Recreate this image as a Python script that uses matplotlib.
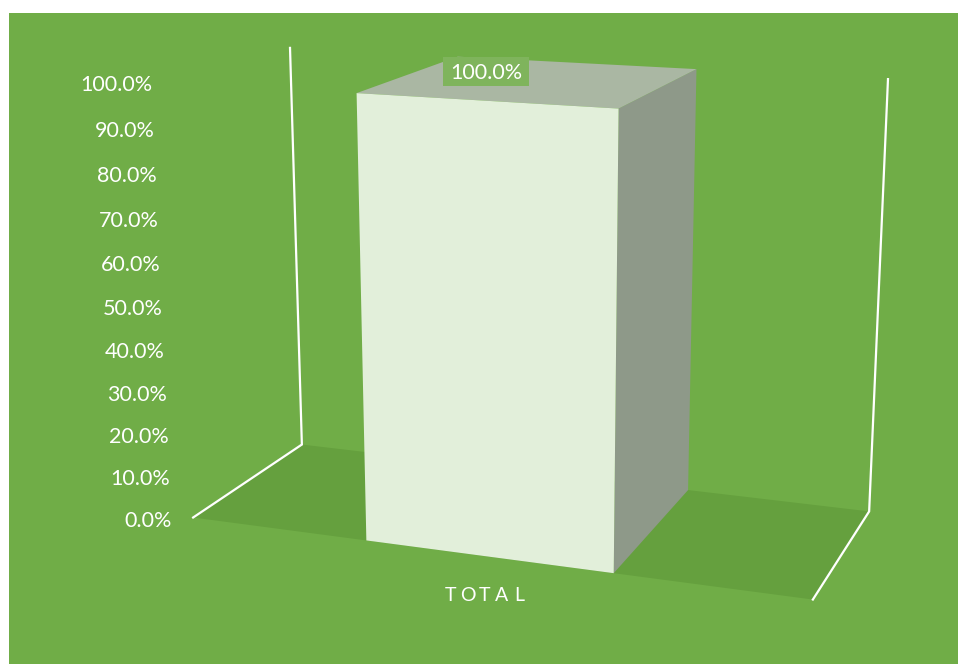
import numpy as np
import matplotlib.pyplot as plt
from matplotlib.patches import Polygon, Rectangle

# chart data
categories = ['TOTAL']
values = [1.0]
tick_values = [0.0, 0.1, 0.2, 0.3, 0.4, 0.5, 0.6, 0.7, 0.8, 0.9, 1.0]
tick_labels = ['0.0%', '10.0%', '20.0%', '30.0%', '40.0%', '50.0%',
               '60.0%', '70.0%', '80.0%', '90.0%', '100.0%']
data_labels = ['100.0%']

W, H = 958, 664
BG = '#70AD47'
FLOOR = '#65A03E'
FRONT = '#E2EFDA'
TOP = '#AAB7A3'
SIDE = '#8E9989'
LABEL_BOX = '#7FB45C'
FONT = 'Lato'

# camera for the 3d box: world (x across, value up, depth back) -> pixels
# calibrated on the floor corners and the tops of the two back corners
frame_world = [(0, 0, 0), (1, 0, 0), (1, 0, 1), (0, 0, 1), (0, 1, 1), (1, 1, 1)]
frame_px = [(193, 518), (813, 599), (869, 512), (302, 444), (290, 48), (888, 79)]


def fit_camera(world, px):
    rows = []
    for (X, Y, Z), (u, v) in zip(world, px):
        u = (u - W / 2) / (W / 2)
        v = (v - H / 2) / (H / 2)
        rows.append([X, Y, Z, 1, 0, 0, 0, 0, -u * X, -u * Y, -u * Z, -u])
        rows.append([0, 0, 0, 0, X, Y, Z, 1, -v * X, -v * Y, -v * Z, -v])
    _, _, vt = np.linalg.svd(np.array(rows, dtype=float))
    return vt[-1].reshape(3, 4)


P = fit_camera(frame_world, frame_px)


def proj(X, Y, Z):
    h = P @ np.array([X, Y, Z, 1.0])
    return (h[0] / h[2] * W / 2 + W / 2, h[1] / h[2] * H / 2 + H / 2)


ymax = max(tick_values)
n = len(categories)
gap = 1.5  # excel gap width 150%

fig = plt.figure(figsize=(W / 100, H / 100), dpi=100)
ax = fig.add_axes([0, 0, 1, 1])
ax.set_xlim(0, W)
ax.set_ylim(H, 0)
ax.axis('off')

ax.add_patch(Rectangle((9, 13), W - 9, H - 13, color=BG, lw=0))

# floor
floor = [proj(0, 0, 0), proj(1, 0, 0), proj(1, 0, 1), proj(0, 0, 1)]
ax.add_patch(Polygon(floor, closed=True, color=FLOOR, lw=0))

# wall edges
for xw, zf in [(0, 0), (1, 0)]:
    pts = [proj(xw, 0, zf), proj(xw, 0, 1), proj(xw, ymax, 1)]
    ax.plot([p[0] for p in pts], [p[1] for p in pts], color='white', lw=1.6,
            solid_joinstyle='miter')

# value axis labels along the front-left edge
for v, lab in zip(tick_values, tick_labels):
    x, y = proj(0, v / ymax, 0)
    ax.text(x - 21, y + 3, lab, ha='right', va='center', color='white',
            fontsize=15.5, family=FONT)

# bars
for i, (cat, val, dl) in enumerate(zip(categories, values, data_labels)):
    slot = 1.0 / n
    bw = slot / (1 + gap)
    x0 = i * slot + (slot - bw) / 2
    x1 = x0 + bw
    yv = val / ymax
    front = [proj(x0, 0, 0), proj(x1, 0, 0), proj(x1, yv, 0), proj(x0, yv, 0)]
    side = [proj(x1, 0, 0), proj(x1, 0, 1), proj(x1, yv, 1), proj(x1, yv, 0)]
    top = [proj(x0, yv, 0), proj(x1, yv, 0), proj(x1, yv, 1), proj(x0, yv, 1)]
    ax.add_patch(Polygon(side, closed=True, color=SIDE, lw=0))
    ax.add_patch(Polygon(top, closed=True, color=TOP, lw=0))
    ax.add_patch(Polygon(front, closed=True, color=FRONT, lw=0))

    # data label
    cx, cy = proj((x0 + x1) / 2, yv, 0.5)
    lx, ly = cx - 46, cy - 9
    ax.add_patch(Rectangle((lx - 43, ly - 14.5), 86, 29, color=LABEL_BOX, lw=0))
    ax.text(lx, ly + 1, dl, ha='center', va='center', color='white',
            fontsize=15.5, family=FONT)

    # category label, letter spaced
    bx, by = proj((x0 + x1) / 2, 0, 0)
    step = 17.1
    start = bx - step * (len(cat) - 1) / 2 - 3
    for k, ch in enumerate(cat):
        ax.text(start + k * step, by + 39, ch, ha='center', va='center',
                color='white', fontsize=14, family=FONT)

fig.savefig('out.png', dpi=100, facecolor='white')
